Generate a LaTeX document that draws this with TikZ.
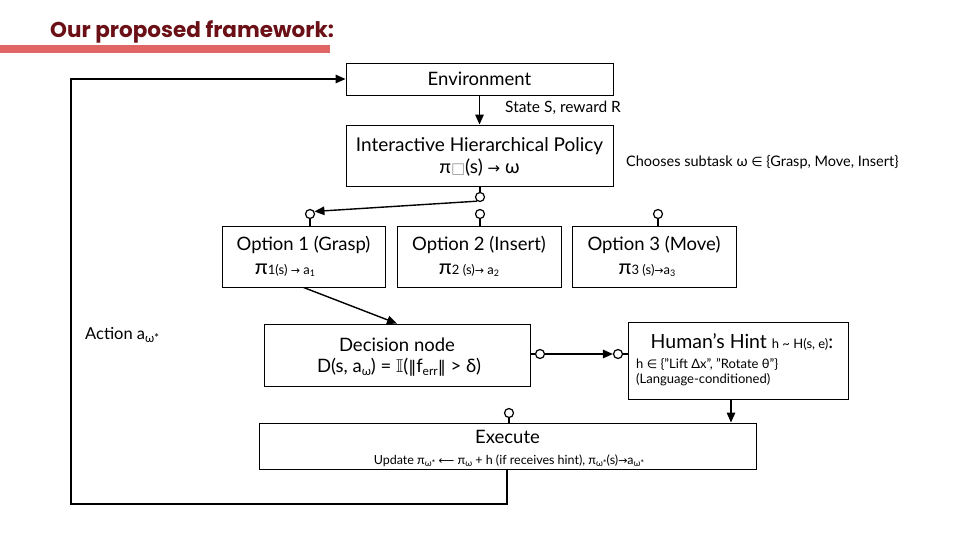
\documentclass[tikz,border=0pt]{standalone}
\usepackage{fontspec}
\usepackage{amssymb}
\setmainfont{Lato}
\newfontfamily\titlefont{Poppins}
\newfontfamily\symfont{DejaVu Sans}
\usetikzlibrary{arrows.meta}
\definecolor{titlered}{HTML}{6B1016}
\definecolor{barred}{HTML}{E06666}
\definecolor{boxgray}{HTML}{999999}
\newcommand\fs[1]{\fontsize{#1}{#1}\selectfont}
\newcommand\lsub[1]{\raisebox{-0.3ex}{\fs{9}#1}}
\newcommand\sy[1]{{\symfont #1}}
\begin{document}
\begin{tikzpicture}[x=1pt,y=-1pt,
  box/.style={draw, line width=0.9pt, align=center, inner sep=0pt},
  dot/.style={circle, draw, fill=white, line width=1.2pt, minimum size=9pt, inner sep=0pt},
  conn/.style={line width=1.4pt},
  arr/.style={conn, -{Triangle[length=10pt,width=8.5pt]}},
  lbl/.style={inner sep=0pt, anchor=west},
  txt/.style={inner sep=0pt}]
\useasboundingbox (0,0) rectangle (960,540);
% title
\fill[barred] (0,45) rectangle (330,53);
\node[inner sep=0pt, anchor=west, text=titlered] (title) at (50,32) {\titlefont\bfseries\fs{21.5}Our proposed framework:};
% boxes
\node[box, minimum width=267pt, minimum height=32pt] (env) at (479.5,79) {};
\node[txt] (envt) at (479.5,79) {\fs{18.5}Environment};
\node[box, minimum width=267pt, minimum height=61pt] (ihp) at (479.5,155.5) {};
\node[txt] (ihpa) at (479.5,146) {\fs{19}Interactive Hierarchical Policy};
\node[txt] (ihpb) at (479.5,168) {\fs{19}π{\color{boxgray}\sy{\fs{15}□}}(s) \sy{\fs{15}→} ω};
\node[box, minimum width=163pt, minimum height=61pt] (o1) at (303.5,256.5) {};
\node[txt] (o1a) at (303.5,245) {\fs{18.5}Option 1 (Grasp)};
\node[txt] (o1b) at (285,270) {{\fs{21}π}{\fs{13}1(s) \sy{\fs{11}→} a\lsub{1}}};
\node[box, minimum width=164pt, minimum height=61pt] (o2) at (479,256.5) {};
\node[txt] (o2a) at (479,245) {\fs{18.5}Option 2 (Insert)};
\node[txt] (o2b) at (469,270) {{\fs{21}π}{\fs{13}2 (s)\sy{\fs{11}→} a\lsub{2}}};
\node[box, minimum width=164pt, minimum height=61pt] (o3) at (654,256.5) {};
\node[txt] (o3a) at (654,245) {\fs{18.5}Option 3 (Move)};
\node[txt] (o3b) at (647,270) {{\fs{21}π}{\fs{13}3 (s)\sy{\fs{11}→}a\lsub{3}}};
\node[box, minimum width=266pt, minimum height=62pt] (dec) at (397,355) {};
\node[txt] (deca) at (397,345) {\fs{18.5}Decision node};
\node[txt] (decb) at (399,367) {\fs{18.5}D(s, a\lsub{\fs{12}ω}) = $\mathbb{I}$(\sy{\fs{16}‖}f\lsub{\fs{12}err}\sy{\fs{16}‖} > δ)};
\node[box, minimum width=220pt, minimum height=77pt] (hint) at (738,360.5) {};
\node[txt] (hintt) at (742,342) {\fs{19.5}Human’s Hint {\fs{13}h \textasciitilde{} H(s, e)}:};
\node[lbl, align=left] (hintb) at (636,372) {\fs{13}h \sy{\fs{12}∈} \{"Lift Δx", "Rotate θ"\}\\[3pt]\fs{13}(Language-conditioned)};
\node[box, minimum width=497pt, minimum height=46pt] (exe) at (507.5,446) {};
\node[txt] (exet) at (507.5,437) {\fs{18.5}Execute};
\node[txt] (exeb) at (509,461) {\fs{12.5}Update π\lsub{ω*} \sy{\fs{11}⟵} π\lsub{ω} + h (if receives hint), π\lsub{ω*}(s)\sy{\fs{11}→}a\lsub{ω*}};
% labels
\node[lbl] (state) at (505,108) {\fs{15.5}State S, reward R};
\node[lbl] (choose) at (626,162) {\fs{14.5}Chooses subtask ω \sy{\fs{13}∈} \{Grasp, Move, Insert\}};
\node[lbl] (action) at (85,335) {\fs{16.5}Action a\lsub{\fs{12}ω*}};
% dots
\node[dot] (c0) at (480,197) {};
\node[dot] (c1) at (310,214) {};
\node[dot] (c2) at (480,214) {};
\node[dot] (c3) at (658,214) {};
\node[dot] (d1) at (540,354) {};
\node[dot] (d2) at (618,354) {};
\node[dot] (e0) at (509,413) {};
\coordinate (h1) at (731,399);
\coordinate (l1) at (507,504);
\coordinate (l2) at (71,504);
\coordinate (l3) at (71,79);
% connectors
\draw[arr] (env) -- (ihp);
\draw[conn] (ihp.south -| c0) -- (c0);
\draw[arr] (c0.235) -- (c1.30);
\draw[conn] (c1) -- (c1 |- o1.north);
\draw[conn] (c2) -- (c2 |- o2.north);
\draw[conn] (c3) -- (c3 |- o3.north);
\draw[arr] (o1.south) -- (dec.north);
\draw[conn] (dec.east |- d1) -- (d1);
\draw[arr] (d1) -- (d2);
\draw[conn] (d2) -- (d2 -| hint.west);
\draw[arr] (h1 |- hint.south) -- (h1 |- exe.north);
\draw[conn] (e0) -- (e0 |- exe.north);
\draw[arr] (exe.south -| l1) -- (l1) -- (l2) -- (l3) -- (env.west);
\end{tikzpicture}
\end{document}
